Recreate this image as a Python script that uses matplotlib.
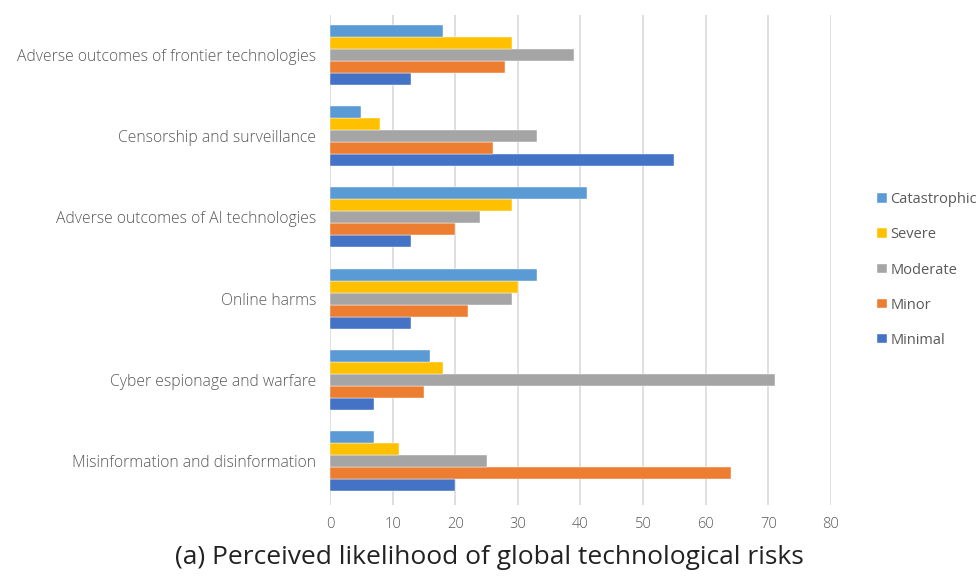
import matplotlib
matplotlib.use("Agg")
import matplotlib.pyplot as plt
import numpy as np

categories = ["Misinformation and disinformation", "Cyber espionage and warfare",
              "Online harms", "Adverse outcomes of AI technologies",
              "Censorship and surveillance", "Adverse outcomes of frontier technologies"]
series_names = ["Minimal", "Minor", "Moderate", "Severe", "Catastrophic"]
minimal = [20, 7, 13, 13, 55, 13]
minor = [64, 15, 22, 20, 26, 28]
moderate = [25, 71, 29, 24, 33, 39]
severe = [11, 18, 30, 29, 8, 29]
catastrophic = [7, 16, 33, 41, 5, 18]
colors = ["#4472C4", "#ED7D31", "#A5A5A5", "#FFC000", "#5B9BD5"]
xticks = [0, 10, 20, 30, 40, 50, 60, 70, 80]
title = "(a) Perceived likelihood of global technological risks"

plt.rcParams['font.family'] = ['Open Sans', 'DejaVu Sans']
fig = plt.figure(figsize=(9.79, 5.78), dpi=100)
ax = fig.add_axes([330/979, 73/578, 501/979, 490/578])

data = [minimal, minor, moderate, severe, catastrophic]
h = 0.148
y = np.arange(len(categories))
bars = []
for i, (vals, c, name) in enumerate(zip(data, colors, series_names)):
    b = ax.barh(y + (i - 2) * h, vals, height=h, color=c, label=name,
                edgecolor="white", linewidth=0.3, zorder=3)
    bars.append(b)

ax.set_xlim(0, 80)
ax.set_ylim(-0.54, 5.49)
ax.set_xticks(xticks)
ax.set_xticklabels([str(t) for t in xticks])
ax.set_yticks(y)
ax.set_yticklabels(categories)
ax.grid(axis="x", color="#D9D9D9", linewidth=1.2, zorder=0)
for s in ax.spines.values():
    s.set_visible(False)
ax.tick_params(axis="both", length=0, colors="#595959", labelsize=10.5)
ax.tick_params(axis="y", pad=10, labelsize=11.3)
ax.tick_params(axis="x", pad=9)
for lbl in ax.get_xticklabels() + ax.get_yticklabels():
    lbl.set_color("#595959")
    lbl.set_fontweight("light")

handles = bars[::-1]
leg = fig.legend(handles, series_names[::-1], loc="center left",
                 bbox_to_anchor=(864/979, 1 - 270/578), frameon=False,
                 handlelength=0.65, handleheight=0.65, handletextpad=0.25,
                 labelspacing=1.38, fontsize=10.5)
for t in leg.get_texts():
    t.set_color("#595959")

fig.text(0.5, 1 - 557/578, title, ha="center", va="center", fontsize=19,
         color="#222222", family=['Open Sans', 'DejaVu Sans'])

fig.savefig("out.png", dpi=100)
